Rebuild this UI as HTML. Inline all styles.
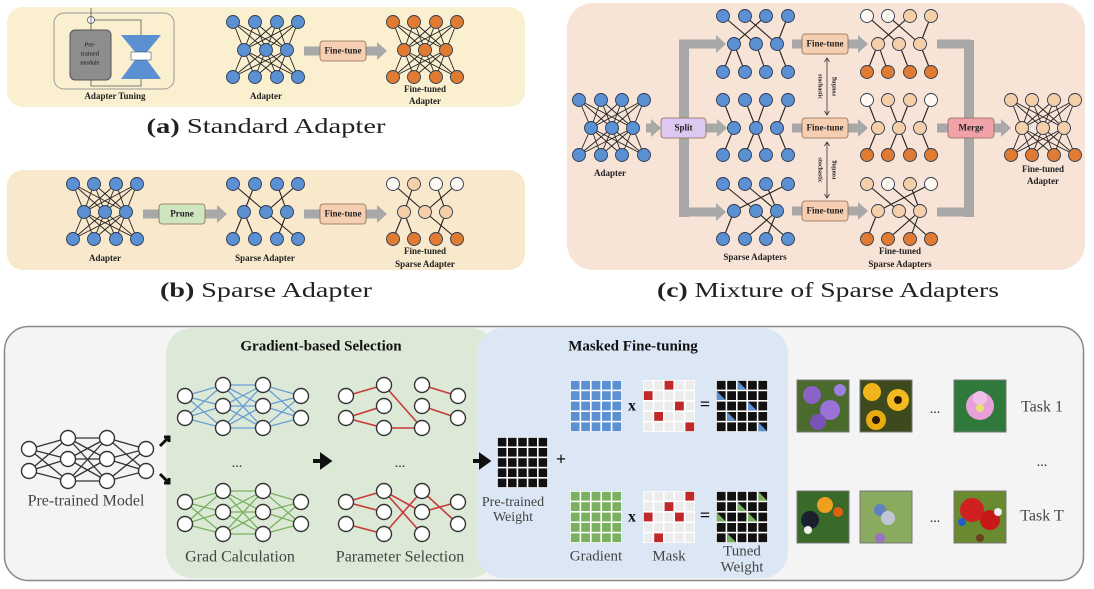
<!DOCTYPE html>
<html><head><meta charset="utf-8">
<style>
html,body{margin:0;padding:0;background:#fff;}
svg{display:block;}
text{font-family:"Liberation Serif",serif;}
</style></head>
<body>
<svg id="fig" width="1094" height="589" viewBox="0 0 1094 589" xmlns="http://www.w3.org/2000/svg">
 <rect x="7" y="7" width="518" height="100" rx="16" fill="#faf0d0"/>
 <rect x="7" y="170" width="518" height="100" rx="16" fill="#f8e8cc"/>
 <rect x="567" y="3" width="518" height="267" rx="26" fill="#f8e4d6"/>
 <rect x="4.5" y="326.5" width="1079" height="254" rx="24" fill="#f4f4f4" stroke="#888" stroke-width="1.5"/>
 <rect x="166" y="328" width="330" height="250" rx="26" fill="#dce9d6"/>
 <rect x="477" y="328" width="311" height="250" rx="26" fill="#dce7f6"/>
 <g id="layer"></g>
</svg>
<script>
const NS="http://www.w3.org/2000/svg";
const L=document.getElementById('layer');
function el(tag,attrs,parent){const e=document.createElementNS(NS,tag);for(const k in attrs)e.setAttribute(k,attrs[k]);(parent||L).appendChild(e);return e;}
function txt(x,y,s,size,opts,name){const o=Object.assign({x:x,y:y,'font-size':size,'text-anchor':'middle','dominant-baseline':'middle',fill:'#222'},opts||{});const t=el('text',o);t.textContent=s;


return t;}

const BLUE='#5b90d2',ORANGE='#e27b32',PALE='#f6cfa8',WHITE='#fdf8f2';
const blueRow=[BLUE,BLUE,BLUE,BLUE];

function adapter(tx,mx,ys,e1,e2,cols,name){
  const g=el('g',{});
  
  
  const c=[tx.map(x=>[x,ys[0]]),mx.map(x=>[x,ys[1]]),tx.map(x=>[x,ys[2]])];
  const draw=(a,b,list)=>{ if(list==='full'){a.forEach(p=>b.forEach(q=>el('line',{x1:p[0],y1:p[1],x2:q[0],y2:q[1],stroke:'#222','stroke-width':0.9},g)));}
    else list.forEach(([i,j])=>el('line',{x1:a[i][0],y1:a[i][1],x2:b[j][0],y2:b[j][1],stroke:'#222','stroke-width':1.1},g));};
  draw(c[0],c[1],e1);draw(c[1],c[2],e2);
  c.forEach((row,r)=>row.forEach((p,i)=>{const n=el('circle',{cx:p[0],cy:p[1],r:6.5,fill:cols[r][i]||cols[r][0],stroke:'#2a3a50','stroke-width':0.9},g);
    
    }));
}
function arrowBar(x1,x2,y,name,w){w=w||9;const p=el('path',{d:`M${x1} ${y-w/2} H${x2-10} V${y-w} L${x2} ${y} L${x2-10} ${y+w} V${y+w/2} H${x1} Z`,fill:'#a8a8a8'});
  
  }
function box(x,y,w,h,fill,label,name){const r=el('rect',{x:x,y:y,width:w,height:h,rx:3,fill:fill,stroke:'#8a6a50','stroke-width':0.8});
  
  
  txt(x+w/2,y+h/2+0.5,label,9,{'font-family':'Liberation Sans, sans-serif','font-weight':'bold',fill:'#222'},name+'-label');}
function caption(x,y,bold,rest,width,name){const t=txt(x,y,'',21,{textLength:width,lengthAdjust:'spacingAndGlyphs',fill:'#222'},name);
  t.innerHTML='<tspan font-weight="bold">'+bold+'</tspan> '+rest;}

const AT=[233,255,277,298],AM=[244,266,287];
const FT=[393,414,436,457],FM=[404,425,446];
const BT=[73,94,116,137],BM=[84,105,126];
const sparseA1=[[0,1],[1,0],[2,2],[3,1]],sparseA2=[[0,1],[1,3],[2,2],[0,0]];

// panel (a)
const at=el('rect',{x:54,y:13,width:120,height:76,rx:10,fill:'none',stroke:'#999','stroke-width':1});


el('rect',{x:70,y:30,width:41,height:50,rx:5,fill:'#8d8d8d',stroke:'#555'});
txt(90,45,'Pre-',6.5,{'font-family':'Liberation Sans,sans-serif',fill:'#111'},'pretrained-module-label-1');
txt(90,54,'trained',6.5,{'font-family':'Liberation Sans,sans-serif',fill:'#111'},'pretrained-module-label-2');
txt(90,63,'module',6.5,{'font-family':'Liberation Sans,sans-serif',fill:'#111'},'pretrained-module-label-3');
const hg=el('path',{d:'M121 35 H161 L147 52 H135 Z M135 60 H147 L161 79 H121 Z',fill:'#5b90d2'});


el('rect',{x:131,y:52,width:20,height:8,fill:'#fff',stroke:'#456','stroke-width':0.6});
el('circle',{cx:91,cy:20,r:3.5,fill:'#fff',stroke:'#555','stroke-width':0.8});
el('path',{d:'M91 8 V30 M91 80 V86 M94 20 H141 V35 M141 79 V86 H91',fill:'none',stroke:'#555','stroke-width':0.8});
txt(115,97,'Adapter Tuning',9,{'font-weight':'bold'},'adapter-tuning-label');
adapter(AT,AM,[22,50,77],'full','full',[blueRow,blueRow,blueRow],'adapter-network-a');
txt(266,97,'Adapter',9,{'font-weight':'bold'},'adapter-label-a');
arrowBar(304,387,51,'finetune-arrow-a');
box(320,41,46,20,'#f6cfb2','Fine-tune','finetune-box-a');
const OR=[ORANGE,ORANGE,ORANGE,ORANGE];
adapter(FT,FM,[22,50,77],'full','full',[OR,OR,OR],'finetuned-adapter-a');
txt(425,90,'Fine-tuned',9,{'font-weight':'bold'},'finetuned-label-a-1');
txt(425,102,'Adapter',9,{'font-weight':'bold'},'finetuned-label-a-2');
caption(266,128,'(a)','Standard Adapter',239,'caption-a');

// panel (b)
adapter(BT,BM,[184,212,239],'full','full',[blueRow,blueRow,blueRow],'adapter-network-b');
txt(105,259,'Adapter',9,{'font-weight':'bold'},'adapter-label-b');
arrowBar(143,227,214,'prune-arrow');
box(159,204,46,20,'#cfe5c0','Prune','prune-box');
adapter(AT,AM,[184,212,239],sparseA1,sparseA2,[blueRow,blueRow,blueRow],'sparse-adapter-b');
txt(265,259,'Sparse Adapter',9,{'font-weight':'bold'},'sparse-adapter-label');
arrowBar(304,387,214,'finetune-arrow-b');
box(320,204,46,20,'#f6cfb2','Fine-tune','finetune-box-b');
adapter(FT,FM,[184,212,239],sparseA1,sparseA2,[[WHITE,PALE,WHITE,WHITE],[PALE,PALE,PALE],OR],'finetuned-sparse-adapter-b');
txt(425,252,'Fine-tuned',9,{'font-weight':'bold'},'finetuned-sparse-label-1');
txt(425,265,'Sparse Adapter',9,{'font-weight':'bold'},'finetuned-sparse-label-2');
caption(266,292,'(b)','Sparse Adapter',212,'caption-b');

// panel (c)
const CT=[579,601,622,644],CM=[591,612,633];
const ST=[723,745,766,788],SM=[734,756,777];
const GT=[867,888,910,931],GM=[878,899,920];
const MT=[1011,1032,1054,1075],MM=[1022,1043,1064];
const rowsY=[[16,44,72],[100,128,155],[184,211,239]];
const sp1=[[[0,1],[1,2],[2,0],[3,2]],[[0,1],[1,2],[2,3],[0,0]]];
const sp2=[[[0,0],[1,1],[2,1],[3,2]],[[0,0],[1,2],[1,1],[2,3]]];
const sp3=[[[0,1],[1,2],[2,2],[3,0]],[[0,0],[1,3],[2,1],[2,2]]];
const sps=[sp1,sp2,sp3];
el('rect',{x:679,y:40,width:10,height:177,fill:'#a8a8a8'});
arrowBar(679,726,44,'split-arrow-top');arrowBar(679,726,212,'split-arrow-bottom');
arrowBar(646,661,128,'adapter-to-split-arrow',9);
arrowBar(706,727,128,'split-arrow-middle');
el('rect',{x:964,y:40,width:10,height:177,fill:'#a8a8a8'});
[44,212].forEach(y=>el('rect',{x:937,y:y-4.5,width:34,height:9,fill:'#a8a8a8'}));
el('rect',{x:937,y:123.5,width:12,height:9,fill:'#a8a8a8'});
arrowBar(994,1011,128,'merge-arrow');
adapter(CT,CM,[100,128,155],'full','full',[blueRow,blueRow,blueRow],'adapter-network-c');
txt(610,174,'Adapter',9,{'font-weight':'bold'},'adapter-label-c');
box(661,118,45,20,'#dcc8f0','Split','split-box');
const fcols=[[[WHITE,WHITE,PALE,PALE],[PALE,PALE,PALE],OR],[[WHITE,PALE,PALE,WHITE],[PALE,PALE,PALE],OR],[[PALE,WHITE,PALE,WHITE],[PALE,PALE,PALE],OR]];
rowsY.forEach((ys,k)=>{
  adapter(ST,SM,ys,sps[k][0],sps[k][1],[blueRow,blueRow,blueRow],'sparse-adapter-c-'+(k+1));
  arrowBar(792,868,ys[1],'finetune-arrow-c-'+(k+1));
  box(802,ys[1]-10,46,20,'#f6cfb2','Fine-tune','finetune-box-c-'+(k+1));
  adapter(GT,GM,ys,sps[k][0],sps[k][1],fcols[k],'finetuned-sparse-adapter-c-'+(k+1));
});
[[58,115],[142,198]].forEach(([a,b],i)=>{
  el('path',{d:`M827 ${a} V${b} M824.5 ${a+4} L827 ${a} L829.5 ${a+4} M824.5 ${b-4} L827 ${b} L829.5 ${b-4}`,stroke:'#333','stroke-width':0.8,fill:'none'});
  const m=(a+b)/2;
  txt(820,m,'stochastic',6,{transform:`rotate(90 820 ${m})`,'font-weight':'bold'},'stochastic-label-'+(i+1));
  txt(834,m,'routing',6,{transform:`rotate(-90 834 ${m})`,'font-weight':'bold'},'routing-label-'+(i+1));
});
box(948,118,46,20,'#f0a2a8','Merge','merge-box');
adapter(MT,MM,[100,128,155],'full','full',[[PALE,PALE,PALE,PALE],[PALE,PALE,PALE],OR],'finetuned-adapter-c');
txt(1043,170,'Fine-tuned',9,{'font-weight':'bold'},'finetuned-adapter-c-label-1');
txt(1043,182,'Adapter',9,{'font-weight':'bold'},'finetuned-adapter-c-label-2');
txt(755,258,'Sparse Adapters',9,{'font-weight':'bold'},'sparse-adapters-label');
txt(900,252,'Fine-tuned',9,{'font-weight':'bold'},'finetuned-sparse-adapters-label-1');
txt(900,265,'Sparse Adapters',9,{'font-weight':'bold'},'finetuned-sparse-adapters-label-2');
caption(828,292,'(c)','Mixture of Sparse Adapters',342,'caption-c');

// bottom method panel
txt(321,347,'Gradient-based Selection',15,{'font-weight':'bold',fill:'#111'},'gradient-selection-title');
txt(633,347,'Masked Fine-tuning',15,{'font-weight':'bold',fill:'#111'},'masked-finetuning-title');
function mlp(xs,y0,edges,color,name){
  const g=el('g',{});
  
  
  const cols=[[y0+11,y0+33],[y0,y0+21,y0+43],[y0,y0+21,y0+43],[y0+11,y0+33]].map((ys,i)=>ys.map(y=>[xs[i],y]));
  if(edges==='full'){for(let c=0;c<3;c++)cols[c].forEach(p=>cols[c+1].forEach(q=>el('line',{x1:p[0],y1:p[1],x2:q[0],y2:q[1],stroke:color,'stroke-width':1.3},g)));}
  else edges.forEach(([c,i,j])=>el('line',{x1:cols[c][i][0],y1:cols[c][i][1],x2:cols[c+1][j][0],y2:cols[c+1][j][1],stroke:color,'stroke-width':1.6},g));
  cols.forEach(col=>col.forEach(p=>el('circle',{cx:p[0],cy:p[1],r:7.5,fill:'#fff',stroke:'#333','stroke-width':1.4},g)));
}
mlp([29,68,107,146],438,'full','#333','pretrained-model-network');
txt(86,502,'Pre-trained Model',16,{fill:'#444'},'pretrained-model-label');
el('path',{d:'M160 446 L168 438 M164 437 H169 V442',stroke:'#111','stroke-width':3,fill:'none'});
el('path',{d:'M160 474 L168 482 M164 483 H169 V478',stroke:'#111','stroke-width':3,fill:'none'});
mlp([185,223,263,301],385,'full','#6a9ed8','grad-network-top');
mlp([185,223,263,301],491,'full','#7ab060','grad-network-bottom');
txt(237,464,'...',14,{},'grad-ellipsis');
txt(240,558,'Grad Calculation',16,{fill:'#444'},'grad-calculation-label');
el('path',{d:'M313 461 H322 V456 L329 461 L322 466 V461',stroke:'#111','stroke-width':4,fill:'#111'});
const selTop=[[0,0,0],[0,1,1],[0,1,2],[1,0,2],[1,2,2],[2,0,0],[2,1,1]];
const selBot=[[0,0,0],[0,0,1],[0,1,2],[1,0,2],[1,2,0],[1,0,1],[2,1,0],[2,0,1]];
mlp([346,384,422,458],385,selTop,'#c83a3a','selected-network-top');
mlp([346,384,422,458],491,selBot,'#c83a3a','selected-network-bottom');
txt(400,464,'...',14,{},'selection-ellipsis');
txt(400,558,'Parameter Selection',16,{fill:'#444'},'parameter-selection-label');
el('path',{d:'M473 461 H481 V456 L488 461 L481 466 V461',stroke:'#111','stroke-width':4,fill:'#111'});

function grid(x,y,size,colorFn,name){
  const g=el('g',{});
  
  
  const c=size/5;
  el('rect',{x:x,y:y,width:size,height:size,fill:'#fff'},g);
  for(let r=0;r<5;r++)for(let k=0;k<5;k++){const col=colorFn(r,k);const cx=x+k*c+0.8,cy=y+r*c+0.8,w=c-1.6;
    if(Array.isArray(col)){el('rect',{x:cx,y:cy,width:w,height:w,fill:col[0]},g);el('path',{d:`M${cx} ${cy} L${cx+w} ${cy+w} H${cx} Z`,fill:col[1]},g);}
    else el('rect',{x:cx,y:cy,width:w,height:w,fill:col},g);}
}
const maskTop=[[0,2],[1,0],[2,3],[3,1],[4,4]];
const maskBot=[[0,4],[1,2],[2,0],[2,3],[4,1]];
const inMask=(m,r,k)=>m.some(([a,b])=>a===r&&b===k);
grid(497,437,51,()=> '#111','pretrained-weight-grid');
txt(513,503,'Pre-trained',14,{fill:'#444'},'pretrained-weight-label-1');
txt(513,518,'Weight',14,{fill:'#444'},'pretrained-weight-label-2');
txt(561,461,'+',18,{'font-weight':'bold',fill:'#111'},'plus-sign');
[[380,'#5b90d2',maskTop,'top'],[491,'#7ab060',maskBot,'bottom']].forEach(([y,c,m,n])=>{
  grid(570,y,52,()=>c,'gradient-grid-'+n);
  txt(632,y+27,'x',16,{'font-weight':'bold',fill:'#111','font-family':'Liberation Sans,sans-serif'},'times-sign-'+n);
  grid(643,y,52,(r,k)=>inMask(m,r,k)?'#c0282a':'#ececec','mask-grid-'+n);
  txt(705,y+26,'=',18,{'font-weight':'bold',fill:'#111','font-family':'Liberation Sans,sans-serif'},'equals-sign-'+n);
  grid(716,y,52,(r,k)=>inMask(m,r,k)?['#111',c]:'#111','tuned-weight-grid-'+n);
});
txt(596,557,'Gradient',15,{fill:'#444'},'gradient-label');
txt(669,557,'Mask',15,{fill:'#444'},'mask-label');
txt(742,552,'Tuned',15,{fill:'#444'},'tuned-label-1');
txt(742,568,'Weight',15,{fill:'#444'},'tuned-label-2');

const imgs=[
 [797,380,'#4a6a2e',[['#8a62c8',812,395,9],['#9a72d8',830,410,10],['#7a52b8',818,422,8],['#a080e0',840,390,6]],'task1-image-crocus'],
 [860,380,'#3e4a1e',[['#f0b418',872,392,9],['#f2bc20',898,400,11],['#e8ac10',876,420,10],['#2a1a08',898,400,4],['#2a1a08',876,420,4]],'task1-image-sunflowers'],
 [954,380,'#2f7a3a',[['#e8a0d8',980,406,14],['#f0c0e8',980,398,7],['#e6e070',980,408,4]],'task1-image-lotus'],
 [797,491,'#3a6a2a',[['#f0a020',825,505,8],['#1a2030',810,520,9],['#f0f0f0',808,530,4],['#e06010',838,512,5]],'taskT-image-toucan'],
 [860,491,'#8aaa60',[['#6080c0',880,510,6],['#c0c8d8',888,518,7],['#9a70c0',880,538,5]],'taskT-image-bluejay'],
 [954,491,'#6a8a30',[['#d02020',972,510,12],['#c81818',990,520,10],['#f0f0f0',998,512,4],['#2060c0',962,522,4],['#6a4020',980,538,4]],'taskT-image-macaws']
];
imgs.forEach(([x,y,bg,blobs,name])=>{
  const g=el('g',{});
  
  
  el('rect',{x:x,y:y,width:52,height:52,fill:bg,stroke:'#777','stroke-width':1},g);
  blobs.forEach(([c,cx,cy,r])=>el('circle',{cx:cx,cy:cy,r:r,fill:c},g));
});
txt(935,410,'...',14,{},'task1-ellipsis');
txt(935,519,'...',14,{},'taskT-ellipsis');
txt(1042,408,'Task 1',16,{fill:'#444'},'task-1-label');
txt(1042,463,'...',14,{},'tasks-ellipsis');
txt(1042,517,'Task T',16,{fill:'#444'},'task-t-label');
</script>
</body></html>
